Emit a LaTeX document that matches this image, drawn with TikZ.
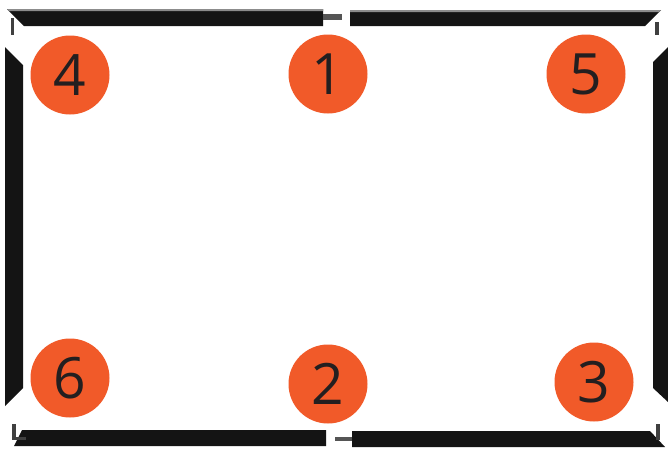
\documentclass[tikz,border=0pt]{standalone}
\usepackage{fontspec}
\setmainfont{Open Sans}
\definecolor{badge}{HTML}{F15A29}
\definecolor{digit}{HTML}{231F20}
\definecolor{barc}{HTML}{141414}
\definecolor{joint}{HTML}{555555}
\begin{document}
\begin{tikzpicture}[x=1pt,y=-1pt,
  badgenode/.style={circle,fill=badge,minimum size=79pt,inner sep=0pt,
    text=digit,font=\fontsize{57}{57}\selectfont},
  bar/.style={fill=barc,draw=none},
  tab/.style={fill=black!75,draw=none}]
\useasboundingbox (0,0) rectangle (668,450);
\fill[white] (0,0) rectangle (668,450);
% top bars
\fill[bar] (7,9) -- (323,9) -- (323,26) -- (24,26) -- cycle;
\fill[black!45] (7,9) -- (323,9) -- (323,11) -- (9,11) -- cycle;
\fill[joint] (323,14) rectangle (342,20);
\fill[bar] (350,10) -- (661,10) -- (645,26) -- (350,26) -- cycle;
\fill[black!45] (350,10) -- (661,10) -- (659,12) -- (350,12) -- cycle;
\fill[tab] (11,18) rectangle (14,35);
\fill[tab] (655,22) rectangle (659,35);
% left bar
\fill[bar] (5,47) -- (23,65) -- (23,388) -- (5,406) -- cycle;
% right bar
\fill[bar] (653,62) -- (668,47) -- (668,402) -- (653,388) -- cycle;
% bottom bars
\fill[bar] (22,430) -- (326,430) -- (326,446) -- (14,446) -- cycle;
\fill[tab] (12,424) rectangle (16,440);
\fill[tab] (12,437) rectangle (26,440);
\fill[joint] (335,437) rectangle (352,441);
\fill[bar] (352,431) -- (650,431) -- (665,447) -- (352,447) -- cycle;
\fill[tab] (656,424) rectangle (660,440);
% badges
\node[badgenode] (n4) at (70,75) {4};
\node[badgenode] (n1) at (328,74) {1};
\node[badgenode] (n5) at (586,74) {5};
\node[badgenode] (n6) at (70,378) {6};
\node[badgenode] (n2) at (328,384) {2};
\node[badgenode] (n3) at (594,382) {3};
\end{tikzpicture}
\end{document}
